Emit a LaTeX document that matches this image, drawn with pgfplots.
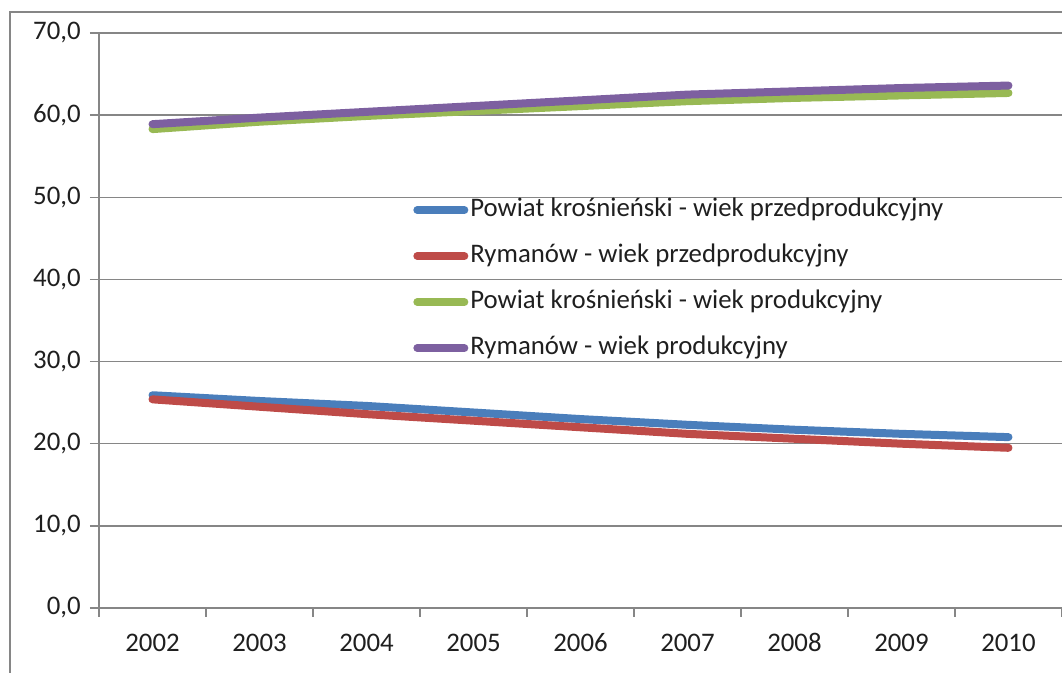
\documentclass[border=0pt]{standalone}
\usepackage{pgfplots}
\pgfplotsset{compat=1.18}
\usepackage{fontspec}
\setmainfont{Carlito}
\definecolor{gridc}{HTML}{868686}
\definecolor{cblue}{HTML}{4A7EBB}
\definecolor{cred}{HTML}{BE4B48}
\definecolor{cgreen}{HTML}{98B954}
\definecolor{cpurple}{HTML}{7D60A0}
\definecolor{txt}{HTML}{1F1F1F}
\begin{document}
\fontsize{13.4}{16}\selectfont
\begin{tikzpicture}
\clip (0,0) rectangle (531pt,336.5pt);
\draw[gridc, line width=1pt] (5pt,-10pt) -- (5pt,330.5pt) -- (545pt,330.5pt);
\begin{axis}[
  at={(49.5pt,32.5pt)}, anchor=south west,
  scale only axis, width=481.5pt, height=287.5pt,
  xmin=-0.5, xmax=8.5, ymin=0, ymax=70,
  ytick={0,10,...,70},
  xtick={0,...,8},
  xticklabels={2002,2003,2004,2005,2006,2007,2008,2009,2010},
  minor xtick={-0.5,0.5,...,8.5},
  axis x line*=bottom, axis y line*=left,
  axis line style={gridc, line width=0.75pt, -},
  ymajorgrids, major grid style={gridc, line width=0.75pt},
  tick align=outside, major tick length=4.5pt, minor tick length=4.5pt,
  major x tick style={draw=none},
  minor x tick style={gridc, line width=0.75pt},
  major y tick style={gridc, line width=0.75pt},
  /pgf/number format/assume math mode=true,
  yticklabel style={/pgf/number format/.cd, fixed, fixed zerofill, precision=1, use comma},
  xticklabel style={yshift=-3.5pt, text height=9pt, text depth=0pt},
  tick label style={font=\fontsize{13.4}{16}\selectfont, text=txt},
  legend style={at={(0.326,0.718)}, anchor=north west, draw=none, fill=none,
    inner sep=0pt, row sep=8.5pt,
    nodes={inner sep=1pt, text height=9.5pt, text depth=3pt, anchor=west, text=txt},
    font=\fontsize{13.4}{16}\selectfont},
  legend cell align=left,
  legend image code/.code={\draw[#1, line cap=round] (0pt,0pt) -- (23.5pt,0pt);},
  every axis plot/.append style={line width=4pt, line cap=round, line join=round, mark=none},
]
\addplot[cblue] coordinates {(0,25.9) (1,25.2) (2,24.6) (3,23.8) (4,23.0) (5,22.3) (6,21.7) (7,21.2) (8,20.8)};
\addlegendentry{Powiat krośnieński - wiek przedprodukcyjny}
\addplot[cred] coordinates {(0,25.4) (1,24.5) (2,23.6) (3,22.8) (4,22.0) (5,21.2) (6,20.6) (7,20.0) (8,19.5)};
\addlegendentry{Rymanów - wiek przedprodukcyjny}
\addplot[cgreen] coordinates {(0,58.3) (1,59.2) (2,59.9) (3,60.5) (4,61.1) (5,61.7) (6,62.1) (7,62.4) (8,62.7)};
\addlegendentry{Powiat krośnieński - wiek produkcyjny}
\addplot[cpurple] coordinates {(0,58.9) (1,59.7) (2,60.4) (3,61.1) (4,61.8) (5,62.5) (6,62.9) (7,63.3) (8,63.6)};
\addlegendentry{Rymanów - wiek produkcyjny}
\end{axis}
\end{tikzpicture}
\end{document}
